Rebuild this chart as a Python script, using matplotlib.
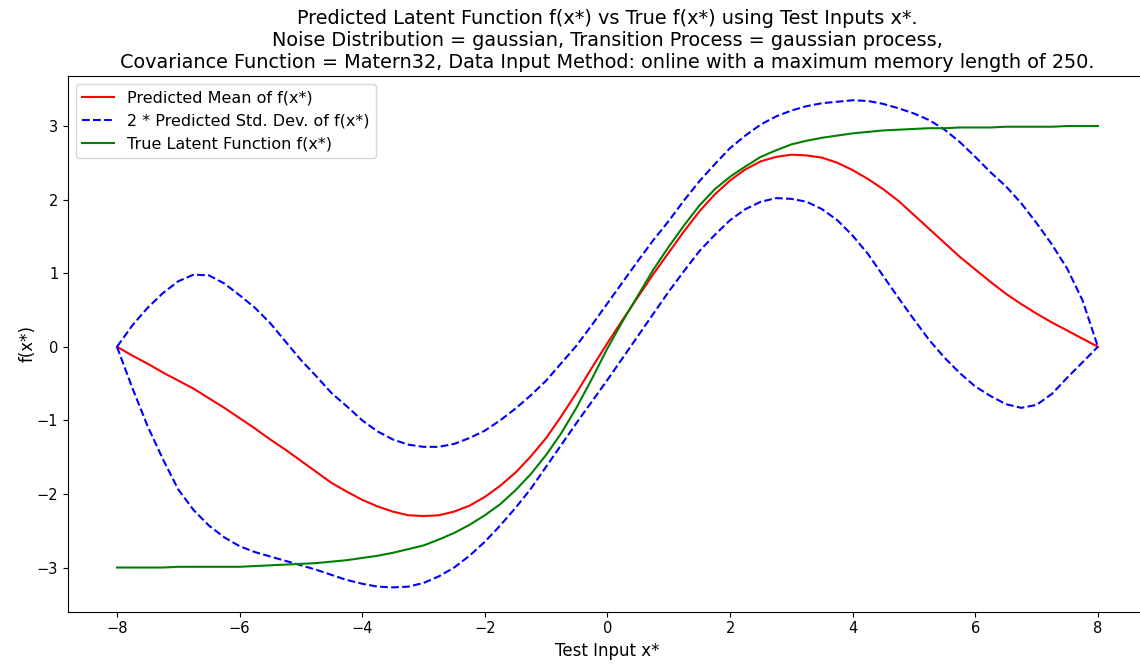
import matplotlib
matplotlib.use("Agg")
import matplotlib.pyplot as plt
import numpy as np

# test inputs x* (read every 0.25)
x_test = [-8.0, -7.75, -7.5, -7.25, -7.0, -6.75, -6.5, -6.25, -6.0, -5.75, -5.5,
          -5.25, -5.0, -4.75, -4.5, -4.25, -4.0, -3.75, -3.5, -3.25, -3.0,
          -2.75, -2.5, -2.25, -2.0, -1.75, -1.5, -1.25, -1.0, -0.75, -0.5, -0.25,
          0.0, 0.25, 0.5, 0.75, 1.0, 1.25, 1.5, 1.75, 2.0, 2.25, 2.5, 2.75,
          3.0, 3.25, 3.5, 3.75, 4.0, 4.25, 4.5, 4.75, 5.0, 5.25, 5.5, 5.75,
          6.0, 6.25, 6.5, 6.75, 7.0, 7.25, 7.5, 7.75, 8.0]

# predicted mean of f(x*)
pred_mean = [0.0, -0.12, -0.23, -0.35, -0.46, -0.57, -0.70, -0.83, -0.97, -1.11, -1.26,
             -1.40, -1.55, -1.70, -1.85, -1.97, -2.08, -2.17, -2.24, -2.29, -2.30,
             -2.29, -2.24, -2.16, -2.04, -1.89, -1.71, -1.49, -1.24, -0.94, -0.62, -0.28,
             0.05, 0.37, 0.68, 0.99, 1.28, 1.57, 1.84, 2.07, 2.26, 2.41, 2.52, 2.58,
             2.61, 2.60, 2.57, 2.50, 2.40, 2.28, 2.14, 1.98, 1.79, 1.60, 1.41, 1.22,
             1.05, 0.88, 0.72, 0.58, 0.45, 0.33, 0.22, 0.11, 0.0]

# mean + 2 std
upper_band = [0.0, 0.29, 0.53, 0.73, 0.89, 0.98, 0.97, 0.86, 0.70, 0.53, 0.32,
              0.07, -0.18, -0.40, -0.63, -0.81, -1.00, -1.15, -1.26, -1.33, -1.36,
              -1.36, -1.32, -1.24, -1.14, -1.00, -0.84, -0.66, -0.46, -0.22, 0.02, 0.30,
              0.59, 0.88, 1.17, 1.45, 1.71, 1.99, 2.25, 2.48, 2.70, 2.87, 3.02, 3.13,
              3.21, 3.27, 3.31, 3.33, 3.35, 3.34, 3.30, 3.24, 3.17, 3.08, 2.95, 2.78,
              2.58, 2.37, 2.18, 1.95, 1.68, 1.39, 1.06, 0.63, 0.0]

# mean - 2 std
lower_band = [0.0, -0.56, -1.08, -1.53, -1.94, -2.22, -2.43, -2.59, -2.71, -2.79, -2.85,
              -2.91, -2.97, -3.03, -3.10, -3.17, -3.22, -3.26, -3.27, -3.26, -3.21,
              -3.12, -3.00, -2.84, -2.65, -2.43, -2.19, -1.93, -1.63, -1.33, -1.03, -0.74,
              -0.45, -0.15, 0.15, 0.45, 0.75, 1.03, 1.30, 1.52, 1.72, 1.87, 1.97, 2.02,
              2.01, 1.97, 1.87, 1.72, 1.51, 1.26, 0.96, 0.66, 0.37, 0.09, -0.15, -0.36,
              -0.54, -0.67, -0.78, -0.83, -0.79, -0.64, -0.42, -0.21, 0.0]

# true latent function
true_f = [-3.00, -3.00, -3.00, -3.00, -2.99, -2.99, -2.99, -2.99, -2.99, -2.98, -2.97,
          -2.96, -2.95, -2.94, -2.92, -2.90, -2.87, -2.84, -2.80, -2.75, -2.70,
          -2.62, -2.53, -2.42, -2.29, -2.14, -1.95, -1.73, -1.47, -1.17, -0.82, -0.43,
          -0.02, 0.35, 0.70, 1.05, 1.36, 1.65, 1.92, 2.14, 2.31, 2.45, 2.58, 2.67,
          2.75, 2.80, 2.84, 2.87, 2.90, 2.92, 2.94, 2.95, 2.96, 2.97, 2.97, 2.98,
          2.98, 2.98, 2.99, 2.99, 2.99, 2.99, 3.00, 3.00, 3.00]

fig = plt.figure(figsize=(11.4, 6.64), dpi=100)
ax = fig.add_axes([0.0596, 0.0788, 0.9465, 0.8068])

ax.plot(x_test, pred_mean, color='red', linewidth=1.5, label='Predicted Mean of f(x*)')
ax.plot(x_test, upper_band, color='blue', linestyle='--', linewidth=1.5,
        label='2 * Predicted Std. Dev. of f(x*)')
ax.plot(x_test, lower_band, color='blue', linestyle='--', linewidth=1.5)
ax.plot(x_test, true_f, color='green', linewidth=1.5, label='True Latent Function f(x*)')

ax.set_xlim(-8.8, 8.8)
ax.set_ylim(-3.6, 3.68)
ax.set_xticks(np.arange(-8, 9, 2))
ax.set_yticks(np.arange(-3, 4, 1))
ax.tick_params(labelsize=10.5)

ax.set_xlabel('Test Input x*', fontsize=12)
ax.set_ylabel('f(x*)', fontsize=12, labelpad=0)
ax.set_title('Predicted Latent Function f(x*) vs True f(x*) using Test Inputs x*.\n'
             'Noise Distribution = gaussian, Transition Process = gaussian process,\n'
             'Covariance Function = Matern32, Data Input Method: online with a maximum memory length of 250.',
             fontsize=13.9)
ax.legend(loc='upper left', fontsize=11.5)

plt.savefig('out.png', dpi=100)
